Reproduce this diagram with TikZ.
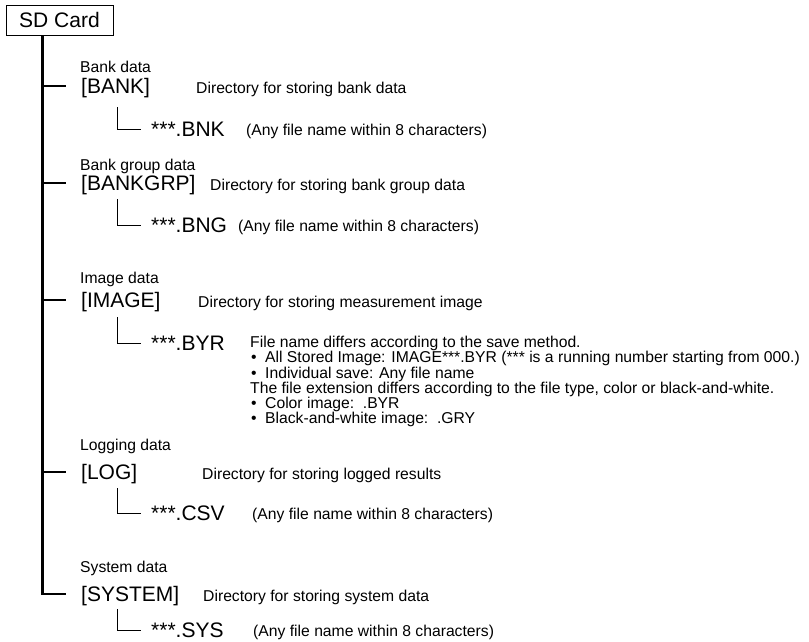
\documentclass[tikz,border=0pt]{standalone}
\usepackage{fontspec}
\setmainfont{Liberation Sans}
\usepackage{tikz}

\begin{document}
\begin{tikzpicture}[
    x=1pt, y=-1pt,
    cardbox/.style={
        draw=black, line width=0.8pt,
        minimum width=107pt, minimum height=30pt,
        font=\fontsize{21}{21}\selectfont, inner sep=0pt,
    },
    dirname/.style={
        font=\fontsize{21}{21}\selectfont, anchor=west,
        inner sep=0pt, text height=15pt, text depth=0pt,
    },
    smalltext/.style={
        font=\fontsize{15.7}{15.7}\selectfont, anchor=west,
        inner sep=0pt, text height=11.2pt, text depth=0pt,
    },
    trunk/.style={line width=2.8pt},
    twig/.style={line width=0.9pt},
]

\useasboundingbox (0,0) rectangle (809,642);
\def\imgbullet{\hspace*{1pt}\makebox[14pt][l]{•}}  % bullet + indent

% ── SD card ─────────────────────────────────────────────────
\node[cardbox] (sdcard) at (59.5, 20) {SD Card};
\coordinate (trunktop) at ([xshift=37pt]sdcard.south west);

% ── Directories ─────────────────────────────────────────────
\foreach \key/\y/\ly/\lab/\dir/\dx/\desc in {
    bank/86/67/Bank data/{[BANK]}/196/Directory for storing bank data,
    bankgrp/183/165/Bank group data/{[BANKGRP]}/210/Directory for storing bank group data,
    image/300/278/Image data/{[IMAGE]}/198/Directory for storing measurement image,
    log/472/445/Logging data/{[LOG]}/202/Directory for storing logged results,
    system/594/567/System data/{[SYSTEM]}/203/Directory for storing system data} {
    \node[smalltext] (lab\key) at (80, \ly) {\lab};
    \node[dirname] (dir\key) at (81, \y) {\dir};
    \node[smalltext] (desc\key) at (\dx, \y+2) {\desc};
}

% ── Trunk and branches ──────────────────────────────────────
\draw[trunk] (trunktop) |- ([xshift=-15pt]dirsystem.west);
\foreach \key in {bank, bankgrp, image, log} {
    \draw[trunk] (trunktop |- dir\key.west) -- ([xshift=-15pt]dir\key.west);
}

% ── Files ───────────────────────────────────────────────────
\foreach \key/\y/\top/\ext in {bank/129/21/BNK, bankgrp/225/16/BNG,
    image/343/17/BYR, log/513/16/CSV, system/630/15/SYS} {
    \node[dirname] (file\key) at (151, \y) {***.\ext};
    \draw[twig] ([xshift=36pt, yshift=-\top]dir\key.west)
        |- ([xshift=-10pt]file\key.west);
}
\foreach \key/\y/\nx in {bank/130/246, bankgrp/226/238, log/514/252, system/631/253} {
    \node[smalltext] (note\key) at (\nx, \y) {(Any file name within 8 characters)};
}

% ── Image file naming notes ─────────────────────────────────
\foreach \line [count=\i] in {
    File name differs according to the save method.,
    \imgbullet All Stored Image: IMAGE***.BYR (*** is a running number starting from 000.),
    \imgbullet Individual save: Any file name,
    {The file extension differs according to the file type, color or black-and-white.},
    \imgbullet Color image:~~.BYR,
    \imgbullet Black-and-white image:~~.GRY} {
    \node[smalltext] (byrnote\i) at (250, {342+(\i-1)*15.2}) {\line};
}

\end{tikzpicture}
\end{document}
